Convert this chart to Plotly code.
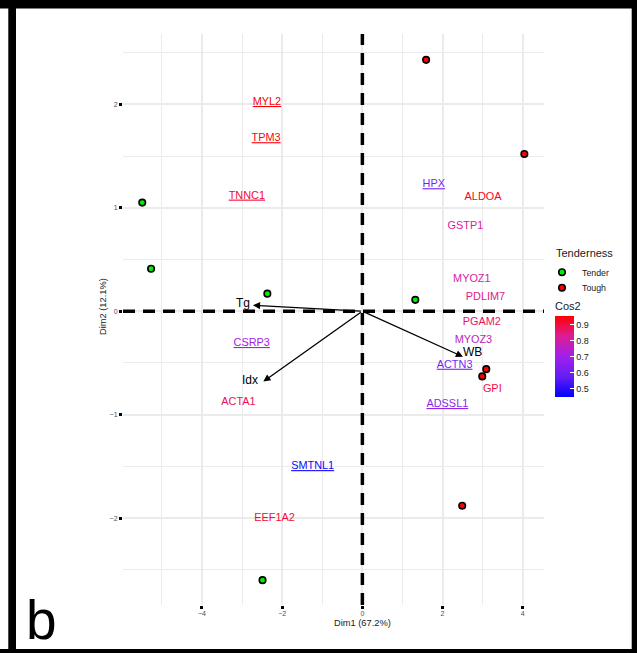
import plotly.graph_objects as go
from plotly.colors import sample_colorscale

# ---------------- data ----------------
tender_x = [-5.49, -5.27, -2.37, 1.32, -2.49]
tender_y = [1.05, 0.41, 0.17, 0.11, -2.60]
tough_x = [1.59, 4.04, 3.09, 2.99, 2.49]
tough_y = [2.43, 1.52, -0.56, -0.63, -1.88]

genes = ["MYL2", "TPM3", "TNNC1", "HPX", "ALDOA", "GSTP1", "MYOZ1", "PDLIM7", "PGAM2",
         "MYOZ3", "ACTN3", "GPI", "ADSSL1", "CSRP3", "ACTA1", "SMTNL1", "EEF1A2"]
gene_x = [-2.38, -2.40, -2.88, 1.78, 3.01, 2.57, 2.73, 3.07, 2.98,
          2.77, 2.30, 3.24, 2.12, -2.76, -3.09, -1.24, -2.19]
gene_y = [2.02, 1.67, 1.115, 1.225, 1.105, 0.82, 0.31, 0.13, -0.11,
          -0.28, -0.52, -0.75, -0.90, -0.31, -0.88, -1.50, -2.005]
gene_cos2 = [0.95, 0.94, 0.91, 0.62, 0.93, 0.82, 0.81, 0.84, 0.87,
             0.76, 0.62, 0.90, 0.67, 0.71, 0.88, 0.47, 0.91]
gene_underlined = [True, True, True, True, False, False, False, False, False,
                   False, True, False, True, True, False, True, False]

vars_name = ["Tg", "Idx", "WB"]
vars_x = [-2.73, -2.47, 2.51]
vars_y = [0.058, -0.68, -0.44]

x_ticks = [-4, -2, 0, 2, 4]
y_ticks = [-2, -1, 0, 1, 2]
cbar_ticks = [0.5, 0.6, 0.7, 0.8, 0.9]

# ---------------- style ----------------
FONT = "Liberation Sans, Arial, sans-serif"
W, H = 637, 653
ML, MR, MT, MB = 123, 93, 34, 48
PW, PH = W - ML - MR, H - MT - MB
XR = [-5.97, 4.53]
YR = [-2.84, 2.68]
CMIN, CMAX = 0.45, 0.953

cscale = [[0.0, "rgb(0,0,255)"], [0.25, "rgb(100,30,245)"], [0.5, "rgb(160,32,235)"],
          [0.75, "rgb(222,28,150)"], [1.0, "rgb(255,0,0)"]]


def px_x(p):
    return (p - ML) / PW


def px_y(p):
    return (H - MB - p) / PH


fig = go.Figure()

# dashed reference lines
fig.add_trace(go.Scatter(x=[XR[0], XR[1]], y=[0, 0], mode="lines",
                         line=dict(color="black", width=3.5, dash="12px,8px"),
                         showlegend=False, hoverinfo="skip"))
fig.add_trace(go.Scatter(x=[0, 0], y=[YR[0], YR[1]], mode="lines",
                         line=dict(color="black", width=3.5, dash="12px,8px"),
                         showlegend=False, hoverinfo="skip"))

# gene labels coloured by cos2
frac = [(c - CMIN) / (CMAX - CMIN) for c in gene_cos2]
text_colors = sample_colorscale(cscale, frac)
labels = [f"<u>{g}</u>" if u else g for g, u in zip(genes, gene_underlined)]
fig.add_trace(go.Scatter(x=gene_x, y=gene_y, mode="text", text=labels,
                         textfont=dict(family=FONT, size=10.9, color=text_colors),
                         showlegend=False, hoverinfo="skip"))
# invisible markers carrying the colour bar
fig.add_trace(go.Scatter(x=gene_x, y=gene_y, mode="markers", showlegend=False, hoverinfo="skip",
                         marker=dict(color=gene_cos2, colorscale=cscale, cmin=CMIN, cmax=CMAX,
                                     opacity=0, size=1, showscale=True,
                                     colorbar=dict(
                                         x=px_x(555), xanchor="left", xref="paper",
                                         y=px_y(397), yanchor="bottom", yref="paper",
                                         thickness=19, thicknessmode="pixels",
                                         len=98, lenmode="pixels",
                                         outlinewidth=0, xpad=0, ypad=0,
                                         tickvals=cbar_ticks, ticks="inside", ticklen=4,
                                         tickcolor="white", tickwidth=1,
                                         tickfont=dict(family=FONT, size=9, color="#1a1a1a"),
                                         title=dict(text="Cos2", side="top",
                                                    font=dict(family=FONT, size=11, color="#1a1a1a"))))))

# individuals
fig.add_trace(go.Scatter(x=tender_x, y=tender_y, mode="markers", name="Tender", legend="legend",
                         marker=dict(color="#00ee00", size=6.5, line=dict(color="black", width=1.6))))
fig.add_trace(go.Scatter(x=tough_x, y=tough_y, mode="markers", name="Tough", legend="legend2",
                         marker=dict(color="#ff0000", size=6.5, line=dict(color="black", width=1.6))))

annotations = []
# variable arrows
label_off = {"Tg": ("right", -1, 2), "Idx": ("right", -3, 2), "WB": ("left", -2, 5)}
for n, vx, vy in zip(vars_name, vars_x, vars_y):
    annotations.append(dict(x=vx, y=vy, ax=0, ay=0, axref="x", ayref="y", xref="x", yref="y",
                            text="", showarrow=True, arrowhead=2, arrowsize=1.1,
                            arrowwidth=1.3, arrowcolor="black"))
    anc, dx, dy = label_off[n]
    annotations.append(dict(x=vx, y=vy, xref="x", yref="y", text=n, showarrow=False,
                            xanchor=anc, yanchor="middle", xshift=dx, yshift=dy,
                            font=dict(family=FONT, size=12, color="black")))

# axis titles
annotations.append(dict(x=px_x(362), y=px_y(622.5), xref="paper", yref="paper", text="Dim1 (67.2%)",
                        showarrow=False, xanchor="center", yanchor="middle",
                        font=dict(family=FONT, size=9.3, color="#1a1a1a")))
annotations.append(dict(x=px_x(103), y=px_y(307), xref="paper", yref="paper", text="Dim2 (12.1%)",
                        showarrow=False, xanchor="center", yanchor="middle", textangle=-90,
                        font=dict(family=FONT, size=9.3, color="#1a1a1a")))
# legend title
annotations.append(dict(x=px_x(554), y=px_y(253), xref="paper", yref="paper", text="Tenderness",
                        showarrow=False, xanchor="left", yanchor="middle",
                        font=dict(family=FONT, size=11, color="#1a1a1a")))
# panel tag
annotations.append(dict(x=px_x(24), y=px_y(653), xref="paper", yref="paper", text="b",
                        showarrow=False, xanchor="left", yanchor="bottom",
                        font=dict(family=FONT, size=55, color="black")))

shapes = []
for x0, y0, x1, y1 in [(0, 0, 637, 8.5), (8.3, 0, 16, 653), (631.7, 0, 637, 653), (0, 649, 637, 653)]:
    shapes.append(dict(type="rect", xref="paper", yref="paper",
                       x0=px_x(x0), x1=px_x(x1), y0=px_y(y1), y1=px_y(y0),
                       fillcolor="black", line=dict(width=0), layer="above"))

axis_common = dict(showline=False, zeroline=False, ticks="outside", ticklen=3, tickwidth=2.5,
                   tickcolor="black", gridcolor="#EBEBEB", gridwidth=2,
                   tickfont=dict(family=FONT, size=7, color="#4d4d4d"))

leg_common = dict(xanchor="left", yanchor="top", xref="paper", yref="paper",
                  font=dict(family=FONT, size=8.8, color="#1a1a1a"),
                  bgcolor="rgba(0,0,0,0)", itemwidth=30)

fig.update_layout(
    width=W, height=H, margin=dict(l=ML, r=MR, t=MT, b=MB),
    paper_bgcolor="white", plot_bgcolor="white",
    xaxis=dict(range=XR, tickvals=x_ticks, ticklabelstandoff=-1, **axis_common,
               minor=dict(dtick=1, tick0=0, showgrid=True, gridcolor="#EBEBEB", gridwidth=1.2)),
    yaxis=dict(range=YR, tickvals=y_ticks, **axis_common,
               minor=dict(dtick=0.5, tick0=0, showgrid=True, gridcolor="#EBEBEB", gridwidth=1.2)),
    legend=dict(x=px_x(542), y=px_y(257.7), **leg_common),
    legend2=dict(x=px_x(542), y=px_y(273.3), **leg_common),
    annotations=annotations, shapes=shapes, showlegend=True,
)

fig.write_html("out.html")
